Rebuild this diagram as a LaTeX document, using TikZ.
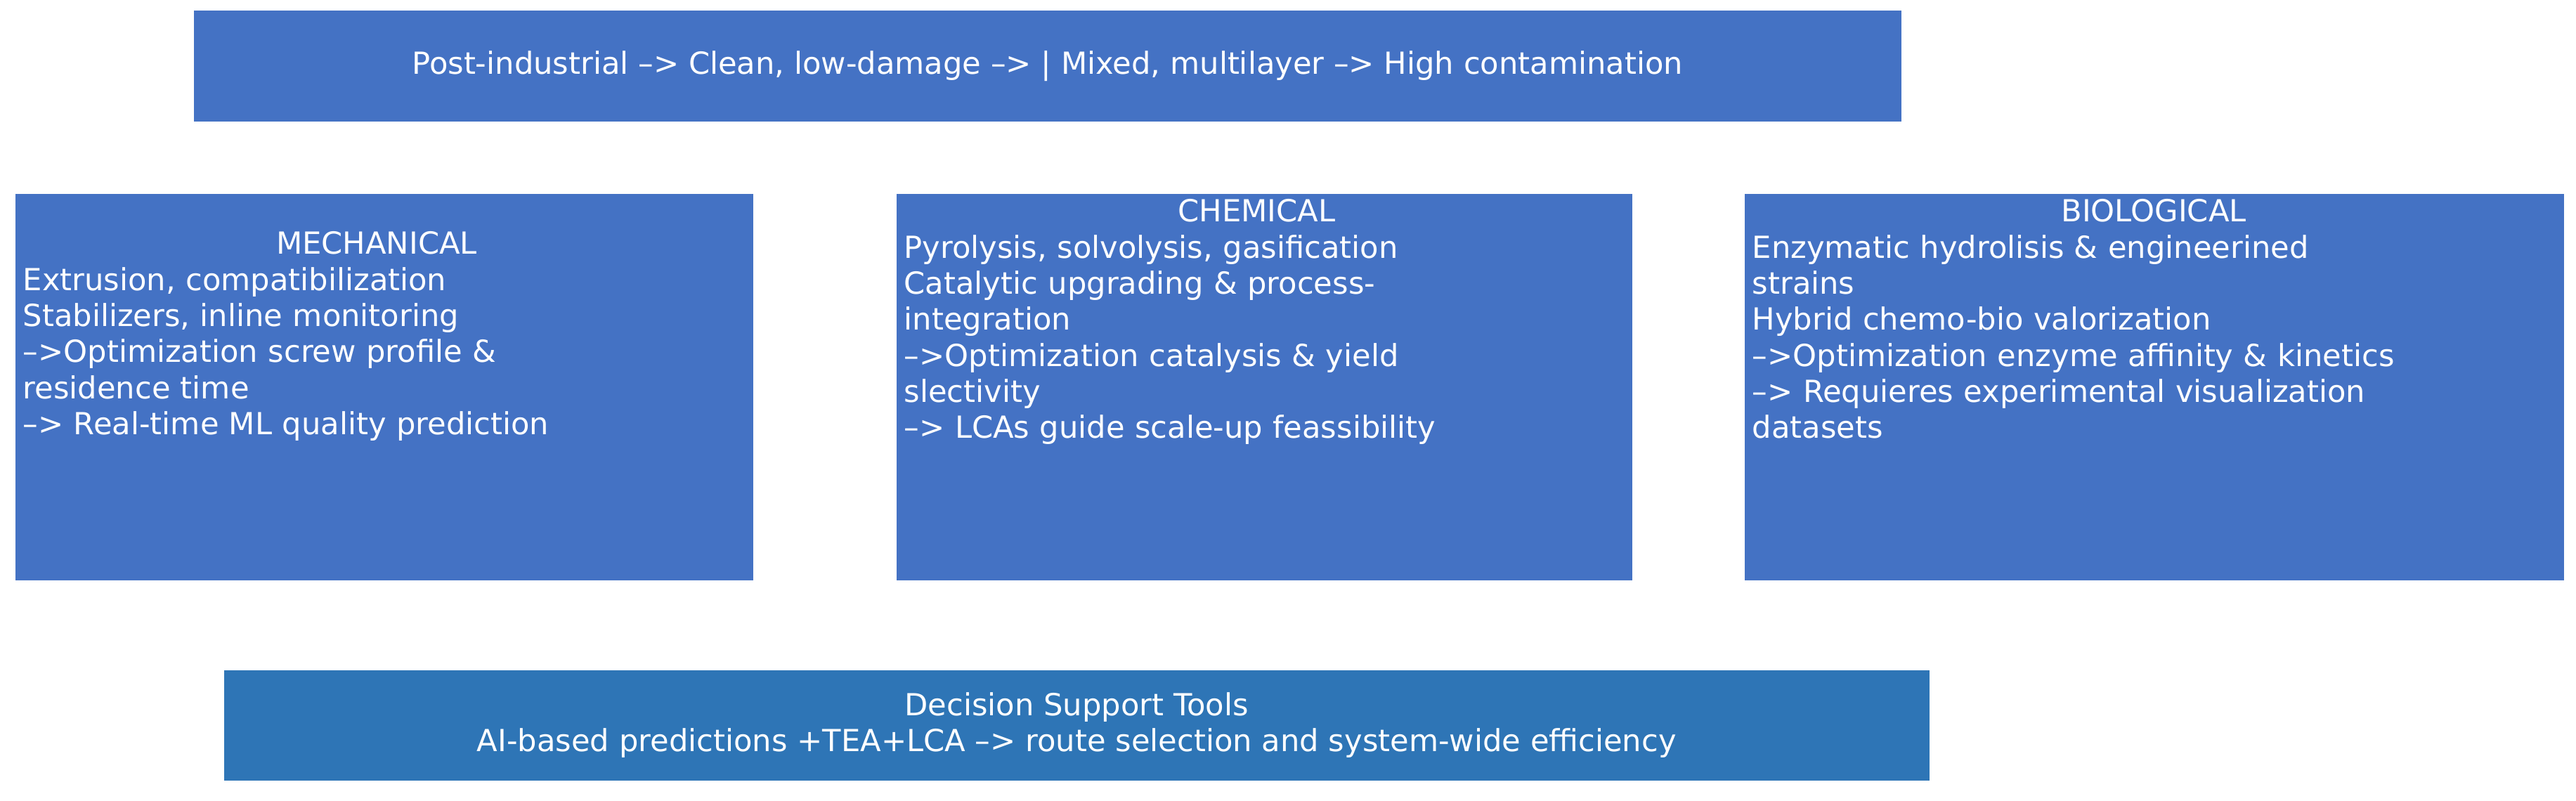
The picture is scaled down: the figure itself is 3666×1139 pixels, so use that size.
\documentclass[tikz,border=0pt]{standalone}
\usepackage{fontspec}
\setmainfont{DejaVu Sans}
\definecolor{boxblue}{HTML}{4472C4}
\definecolor{dsblue}{HTML}{2E75B6}
\begin{document}
\begin{tikzpicture}[x=0.01cm,y=-0.01cm,
  box/.style={fill=boxblue,draw=none,inner sep=0pt,text=white},
  txt/.style={text=white,font=\fontsize{12.3}{14.6}\selectfont,inner xsep=0.11cm,inner ysep=0pt}]
\useasboundingbox (0,0) rectangle (3666,1139);
\node[box,minimum width=2430*0.01cm,minimum height=158*0.01cm,anchor=north west] (flow) at (275,14) {};
\node[txt] (flowt) at (flow.center) {Post-industrial --> Clean, low-damage --> | Mixed, multilayer --> High contamination};
\node[box,minimum width=1050*0.01cm,minimum height=550*0.01cm,anchor=north west] (mech) at (21,275) {};
\node[box,minimum width=1047*0.01cm,minimum height=550*0.01cm,anchor=north west] (chem) at (1275,275) {};
\node[box,minimum width=1166*0.01cm,minimum height=550*0.01cm,anchor=north west] (bio) at (2482,275) {};
\node[box,fill=dsblue,minimum width=2427*0.01cm,minimum height=157*0.01cm,anchor=north west] (dst) at (318,953) {};
\node[txt,text width=10.06cm,align=left,anchor=north west] (mecht) at (21,329) {\makebox[\linewidth]{MECHANICAL}\\Extrusion, compatibilization\\Stabilizers, inline monitoring\\-->Optimization screw profile \&\\residence time\\--> Real-time ML quality prediction};
\node[txt,text width=10.03cm,align=left,anchor=north west] (chemt) at (1275,283) {\makebox[\linewidth]{CHEMICAL}\\Pyrolysis, solvolysis, gasification\\Catalytic upgrading \& process-\\integration\\-->Optimization catalysis \& yield\\slectivity\\--> LCAs guide scale-up feassibility};
\node[txt,text width=11.42cm,align=left,anchor=north west] (biot) at (2482,283) {\makebox[\linewidth]{BIOLOGICAL}\\Enzymatic hydrolisis \& engineerined\\strains\\Hybrid chemo-bio valorization\\-->Optimization enzyme affinity \& kinetics\\--> Requieres experimental visualization\\datasets};
\node[txt,align=center] (dstt) at (dst.center) {Decision Support Tools\\AI-based predictions +TEA+LCA --> route selection and system-wide efficiency};
\end{tikzpicture}
\end{document}
